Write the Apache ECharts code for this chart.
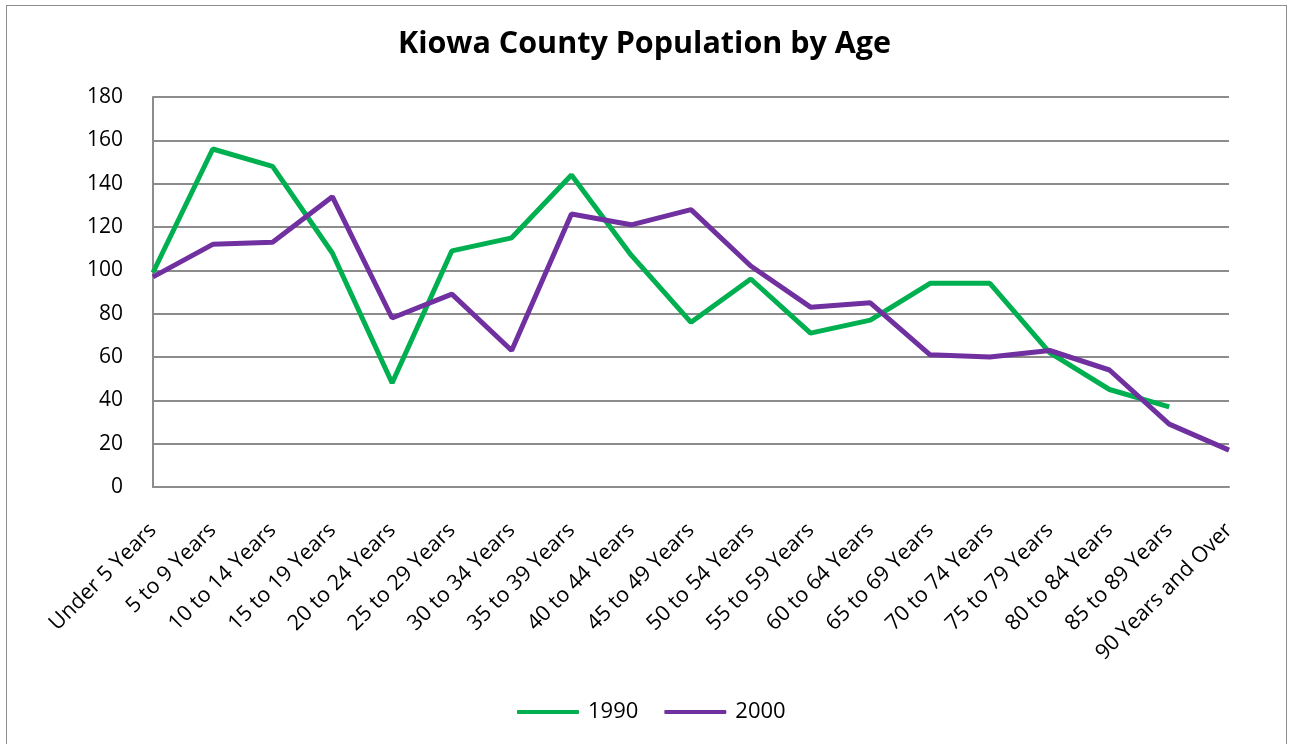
<!DOCTYPE html>
<html lang="en">
<head>
    <meta charset="UTF-8">
    <title>Kiowa County Population by Age</title>
    <script src="https://cdn.jsdelivr.net/npm/echarts@6/dist/echarts.min.js"></script>
    <style>
        html, body { margin: 0; padding: 0; background: #fff; }
        #frame {
            position: absolute; left: 6px; top: 5px; width: 1281px; height: 760px;
            border: 1.5px solid #8c8c8c; box-sizing: border-box;
        }
        #chart { position: absolute; left: 0; top: 0; width: 1289px; height: 744px; }
    </style>
</head>
<body>
<div id="frame"></div>
<div id="chart"></div>
<script>
    // age groups (x axis)
    const ageGroups = [
        'Under 5 Years', '5 to 9 Years', '10 to 14 Years', '15 to 19 Years', '20 to 24 Years',
        '25 to 29 Years', '30 to 34 Years', '35 to 39 Years', '40 to 44 Years', '45 to 49 Years',
        '50 to 54 Years', '55 to 59 Years', '60 to 64 Years', '65 to 69 Years', '70 to 74 Years',
        '75 to 79 Years', '80 to 84 Years', '85 to 89 Years', '90 Years and Over'
    ];
    // population counts
    const pop1990 = [99, 156, 148, 108, 48, 109, 115, 144, 107, 76, 96, 71, 77, 94, 94, 62, 45, 37, null];
    const pop2000 = [97, 112, 113, 134, 78, 89, 63, 126, 121, 128, 102, 83, 85, 61, 60, 63, 54, 29, 17];

    const font = '"Open Sans", sans-serif';
    const chart = echarts.init(document.getElementById('chart'));

    chart.setOption({
        animation: false,
        title: {
            text: 'Kiowa County Population by Age',
            left: 'center',
            top: 24,
            textStyle: { fontFamily: font, fontSize: 30.5, fontWeight: 'bold', color: '#000' }
        },
        legend: {
            top: 696,
            left: 512,
            itemWidth: 62,
            itemHeight: 4,
            itemGap: 26,
            icon: 'roundRect',
            textStyle: { fontFamily: font, fontSize: 22, color: '#000', padding: [0, 0, 0, 4] },
            data: ['1990', '2000']
        },
        grid: { left: 153, right: 60, top: 97, bottom: 257 },
        xAxis: {
            type: 'category',
            boundaryGap: false,
            data: ageGroups,
            axisLine: { lineStyle: { color: '#8c8c8c', width: 2 } },
            axisTick: { show: false },
            axisLabel: {
                rotate: 45,
                interval: 0,
                margin: 40,
                fontFamily: font,
                fontSize: 21.5,
                color: '#000'
            }
        },
        yAxis: {
            type: 'value',
            min: 0,
            max: 180,
            interval: 20,
            axisLine: { show: true, lineStyle: { color: '#8c8c8c', width: 2 } },
            axisTick: { show: false },
            splitLine: { lineStyle: { color: '#8c8c8c', width: 2 } },
            axisLabel: { margin: 30, fontFamily: font, fontSize: 21, color: '#000' }
        },
        series: [
            {
                name: '1990',
                type: 'line',
                data: pop1990,
                symbol: 'none',
                lineStyle: { width: 5, color: '#00b050' },
                itemStyle: { color: '#00b050' }
            },
            {
                name: '2000',
                type: 'line',
                data: pop2000,
                symbol: 'none',
                lineStyle: { width: 5, color: '#7030a0' },
                itemStyle: { color: '#7030a0' }
            }
        ]
    });
</script>
</body>
</html>
